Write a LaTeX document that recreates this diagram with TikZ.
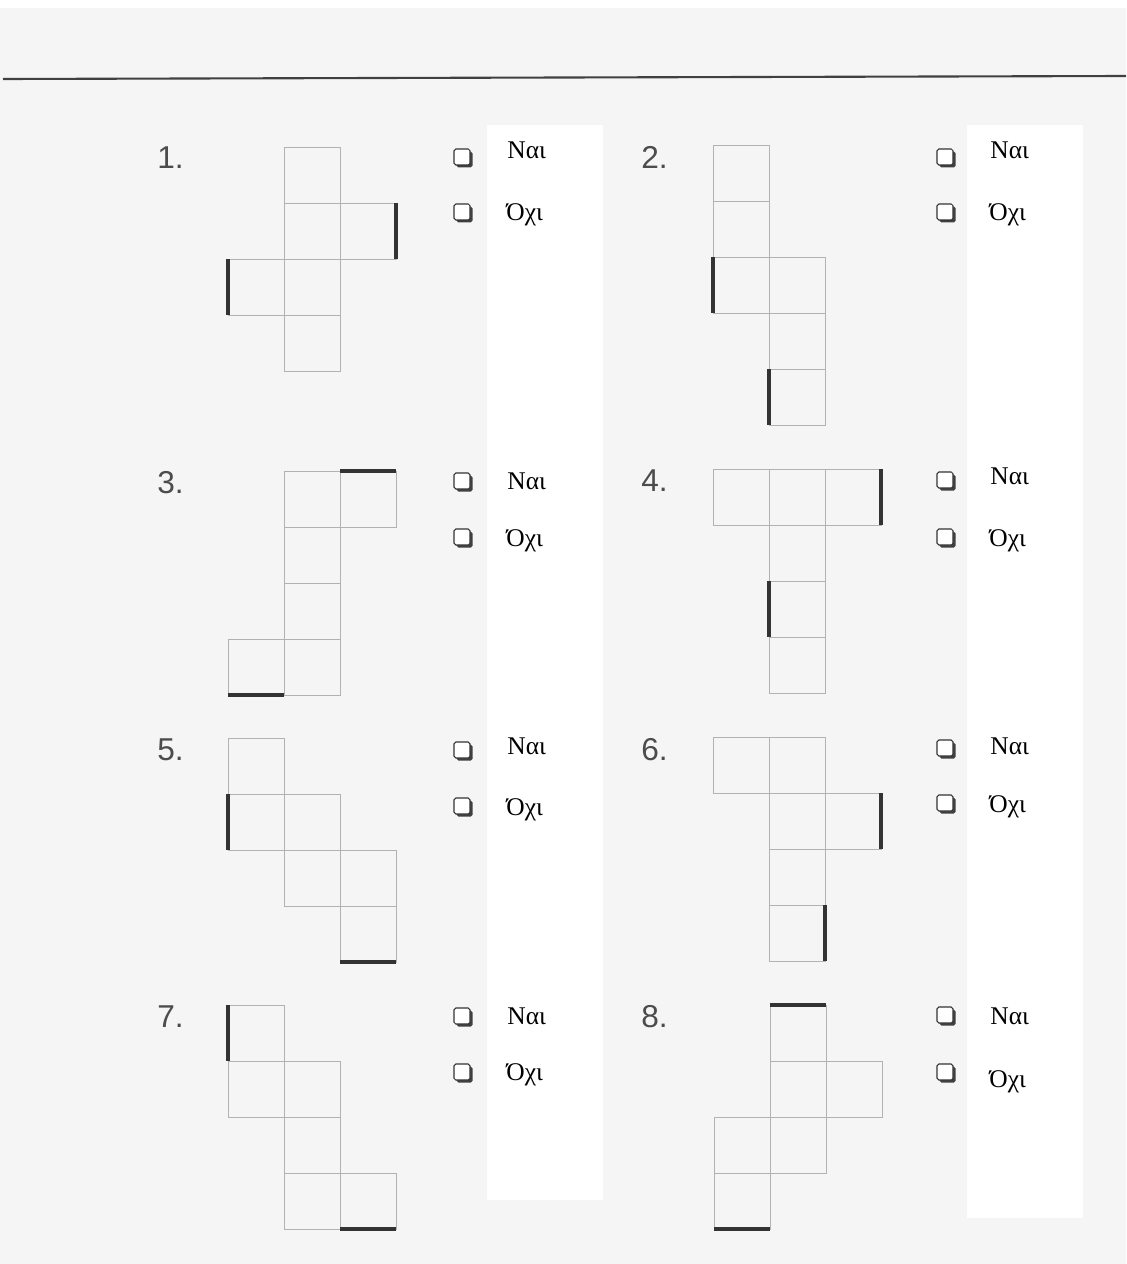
\documentclass[tikz,border=0pt]{standalone}
\usepackage{fontspec}
\setmainfont{Liberation Serif}
\setsansfont{Liberation Sans}
\usepackage{xcolor}
\usepackage{tikz}
\usetikzlibrary{shadows}
\definecolor{scan}{RGB}{245,245,245}

\begin{document}
\begin{tikzpicture}[
  x=0.02cm, y=-0.02cm,
  cell/.style={draw=black!30, line width=0.5pt},
  fold/.style={draw=black!80, line width=2.2pt},
  num/.style={font=\sffamily\fontsize{18}{20}\selectfont, text=black!70, anchor=west, inner sep=0pt},
  ans/.style={font=\fontsize{14.5}{16}\selectfont, anchor=base west, inner sep=0pt},
  tick/.style={
    draw=black!80, fill=white, line width=0.6pt, rounded corners=1pt,
    minimum size=0.32cm, inner sep=0pt,
    drop shadow={shadow xshift=0.05cm, shadow yshift=-0.05cm, opacity=1, fill=black!75}
  }
]
\useasboundingbox (0,0) rectangle (1126,1264);
\fill[white] (0,0) rectangle (1126,1264);
\fill[scan] (0,8) rectangle (1126,1264);
\draw[black!75, line width=1.2pt] (3,79) -- (1126,76);

% answer columns
\fill[white] (487,125) rectangle (603,1200);
\fill[white] (967,125) rectangle (1083,1218);

% nets
\begin{scope}[shift={(228,147)}]
  \foreach \c/\r in {1/0,1/1,1/2,1/3,0/2,2/1}
    \draw[cell] (56*\c,56*\r) rectangle ++(56,56);
  \draw[fold] (0,112) -- (0,168);
  \draw[fold] (168,56) -- (168,112);
\end{scope}
\begin{scope}[shift={(713,145)}]
  \foreach \c/\r in {0/0,0/1,0/2,1/2,1/3,1/4}
    \draw[cell] (56*\c,56*\r) rectangle ++(56,56);
  \draw[fold] (0,112) -- (0,168);
  \draw[fold] (56,224) -- (56,280);
\end{scope}
\begin{scope}[shift={(228,471)}]
  \foreach \c/\r in {1/0,1/1,1/2,1/3,2/0,0/3}
    \draw[cell] (56*\c,56*\r) rectangle ++(56,56);
  \draw[fold] (112,0) -- (168,0);
  \draw[fold] (0,224) -- (56,224);
\end{scope}
\begin{scope}[shift={(713,469)}]
  \foreach \c/\r in {0/0,1/0,2/0,1/1,1/2,1/3}
    \draw[cell] (56*\c,56*\r) rectangle ++(56,56);
  \draw[fold] (168,0) -- (168,56);
  \draw[fold] (56,112) -- (56,168);
\end{scope}
\begin{scope}[shift={(228,738)}]
  \foreach \c/\r in {0/0,0/1,1/1,1/2,2/2,2/3}
    \draw[cell] (56*\c,56*\r) rectangle ++(56,56);
  \draw[fold] (0,56) -- (0,112);
  \draw[fold] (112,224) -- (168,224);
\end{scope}
\begin{scope}[shift={(713,737)}]
  \foreach \c/\r in {0/0,1/0,1/1,2/1,1/2,1/3}
    \draw[cell] (56*\c,56*\r) rectangle ++(56,56);
  \draw[fold] (168,56) -- (168,112);
  \draw[fold] (112,168) -- (112,224);
\end{scope}
\begin{scope}[shift={(228,1005)}]
  \foreach \c/\r in {0/0,0/1,1/1,1/2,1/3,2/3}
    \draw[cell] (56*\c,56*\r) rectangle ++(56,56);
  \draw[fold] (0,0) -- (0,56);
  \draw[fold] (112,224) -- (168,224);
\end{scope}
\begin{scope}[shift={(714,1005)}]
  \foreach \c/\r in {1/0,1/1,2/1,0/2,1/2,0/3}
    \draw[cell] (56*\c,56*\r) rectangle ++(56,56);
  \draw[fold] (56,0) -- (112,0);
  \draw[fold] (0,224) -- (56,224);
\end{scope}

% numbers, boxes and answers
\foreach \i/\nx/\ny/\bx/\ya/\yb/\ta/\tb in {
    1/157/158/462/157/212/158/220, 2/641/157/945/157/212/158/220,
    3/157/483/462/481/537/489/546, 4/641/481/945/480/537/484/546,
    5/157/750/462/750/806/754/815, 6/641/750/945/748/803/754/812,
    7/157/1017/462/1016/1072/1024/1080, 8/641/1017/945/1015/1072/1024/1087}
{
  \node[num] (num\i) at (\nx,\ny) {\i.};
  \node[tick] (yes\i) at (\bx,\ya) {};
  \node[tick] (no\i) at (\bx,\yb) {};
  \node[ans] (tyes\i) at (\bx+45,\ta) {Ναι};
  \node[ans] (tno\i) at (\bx+44,\tb) {Όχι};
}

\end{tikzpicture}
\end{document}
